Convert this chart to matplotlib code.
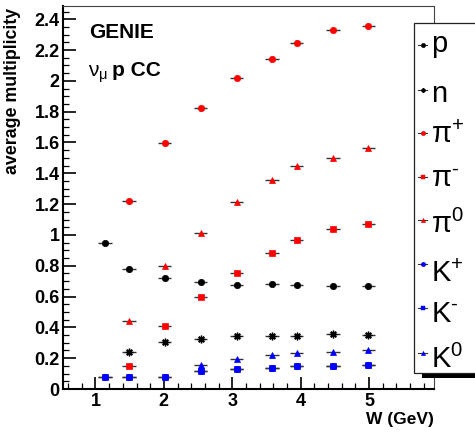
import matplotlib
matplotlib.use("Agg")
import matplotlib.pyplot as plt
import numpy as np
from matplotlib.patches import Rectangle
from matplotlib.lines import Line2D
from matplotlib.ticker import MultipleLocator, FuncFormatter

plt.rcParams['font.family'] = ['Liberation Sans', 'DejaVu Sans']
plt.rcParams['mathtext.fontset'] = 'custom'
plt.rcParams['mathtext.rm'] = 'Liberation Sans'
plt.rcParams['mathtext.it'] = 'Liberation Sans:italic'
plt.rcParams['mathtext.bf'] = 'Liberation Sans:bold'

# ---- data ----
W = [1.136, 1.488, 2.01, 2.537, 3.064, 3.586, 3.94, 4.47, 4.99]
mult_p = [0.948, 0.781, 0.719, 0.695, 0.677, 0.684, 0.677, 0.669, 0.671]
mult_n = [np.nan, 0.240, 0.303, 0.327, 0.346, 0.342, 0.346, 0.357, 0.353]
mult_pip = [np.nan, 1.223, 1.595, 1.827, 2.020, 2.145, 2.247, 2.333, 2.359]
mult_pim = [np.nan, 0.149, 0.411, 0.595, 0.755, 0.881, 0.970, 1.041, 1.071]
mult_pi0 = [np.nan, 0.440, 0.800, 1.013, 1.213, 1.357, 1.450, 1.498, 1.563]
mult_kp = [0.076, 0.076, 0.076, 0.117, 0.130, 0.136, 0.147, 0.151, 0.158]
mult_km = [0.076, 0.076, 0.076, 0.117, 0.130, 0.136, 0.147, 0.151, 0.158]
mult_k0 = [np.nan, np.nan, np.nan, 0.156, 0.195, 0.219, 0.232, 0.240, 0.251]
W_err = 0.1

labels = [r'$\mathrm{p}$', r'$\mathrm{n}$', r'$\mathrm{\pi^{+}}$', r'$\mathrm{\pi^{\text{-}}}$',
          r'$\mathrm{\pi^{0}}$', r'$\mathrm{K^{+}}$', r'$\mathrm{K^{\text{-}}}$', r'$\mathrm{K^{0}}$']
series = [mult_p, mult_n, mult_pip, mult_pim, mult_pi0, mult_kp, mult_km, mult_k0]
colors = ['black', 'black', 'red', 'red', 'red', 'blue', 'blue', 'blue']
markers = ['o', (8, 2, 0), 'o', 's', '^', 'o', 's', '^']
msizes = [4.6, 5.5, 4.6, 4.4, 5.0, 4.6, 4.4, 5.0]

FW, FH = 475, 432
fig = plt.figure(figsize=(FW / 100, FH / 100), dpi=100)

def fx(px):
    return px / FW

def fy(py):
    return 1 - py / FH

ax = fig.add_axes([fx(63), fy(389), fx(434) - fx(63), fy(6) - fy(389)])
ax.set_xlim(0.525, 5.95)
ax.set_ylim(0, 2.486)

for vals, c, m, ms in zip(series, colors, markers, msizes):
    ax.errorbar(W, vals, xerr=W_err, fmt='none', ecolor='#333333', elinewidth=1.0,
                linestyle=(0.5, (1.2, 2.6)), capsize=0, zorder=2)
    ax.plot(W, vals, linestyle='none', marker=m, color=c, markersize=ms,
            markeredgewidth=1.0 if m == (8, 2, 0) else 0.5, markeredgecolor=c, zorder=3)

ax.xaxis.set_major_locator(MultipleLocator(1))
ax.xaxis.set_minor_locator(MultipleLocator(0.2))
ax.yaxis.set_major_locator(MultipleLocator(0.2))
ax.yaxis.set_minor_locator(MultipleLocator(0.05))
ax.yaxis.set_major_formatter(FuncFormatter(lambda v, p: '%g' % round(v, 3)))
ax.xaxis.set_major_formatter(FuncFormatter(lambda v, p: '%g' % round(v, 3)))
ax.tick_params(axis='both', which='both', direction='in', top=False, right=False, color='black')
ax.tick_params(axis='both', which='major', length=9, width=1.2)
ax.tick_params(axis='both', which='minor', length=4.5, width=0.9)
ax.tick_params(axis='y', which='major', pad=2.5)
ax.tick_params(axis='x', which='major', pad=3)
for lab in ax.get_xticklabels() + ax.get_yticklabels():
    lab.set_fontweight('bold')
    lab.set_fontsize(13)

ax.spines['left'].set_linewidth(1.5)
ax.spines['bottom'].set_linewidth(1.5)
ax.spines['top'].set_linewidth(0.8)
ax.spines['right'].set_linewidth(0.8)
ax.spines['top'].set_color('#444444')
ax.spines['right'].set_color('#444444')

# axis titles
fig.text(fx(13), fy(8), 'average multiplicity', rotation=90, ha='center', va='top',
         fontsize=12.8, fontweight='bold')
fig.text(fx(434), fy(424), 'W (GeV)', ha='right', va='baseline', fontsize=12.5, fontweight='bold')

# annotations
fig.text(fx(89), fy(38.3), 'GENIE', ha='left', va='baseline', fontsize=15, fontweight='bold')
fig.text(fx(88.5), fy(76.5), r'$\mathrm{\nu_{\mu}}$', ha='left', va='baseline', fontsize=15)
fig.text(fx(111.5), fy(76.5), 'p CC', ha='left', va='baseline', fontsize=15, fontweight='bold')

# legend box (extends beyond the figure edge, with shadow)
shadow = Rectangle((fx(422), fy(378)), 1.0, fy(28) - fy(378), transform=fig.transFigure,
                   facecolor='black', edgecolor='none', zorder=10)
box = Rectangle((fx(414), fy(373)), 1.0, fy(23) - fy(373), transform=fig.transFigure,
                facecolor='white', edgecolor='#222222', linewidth=0.9, zorder=11)
fig.patches.extend([shadow, box])

mark_y = [45, 90, 133, 177, 220, 264, 308, 353]
base_y = [52, 101.5, 143, 187, 233, 282, 322, 368]
for lab, c, m, my, by in zip(labels, colors, markers, mark_y, base_y):
    fig.lines.append(Line2D([fx(418), fx(427)], [fy(my), fy(my)], transform=fig.transFigure,
                            color='#333333', linewidth=0.8, zorder=12))
    fig.lines.append(Line2D([fx(422.5)], [fy(my)], transform=fig.transFigure, linestyle='none',
                            marker=m, color=c, markersize=3.2,
                            markeredgewidth=0.8 if m == (8, 2, 0) else 0.3, zorder=13))
    t = fig.text(fx(431), fy(by), lab, ha='left', va='baseline', fontsize=21, zorder=14)

fig.savefig('out.png', dpi=100)
